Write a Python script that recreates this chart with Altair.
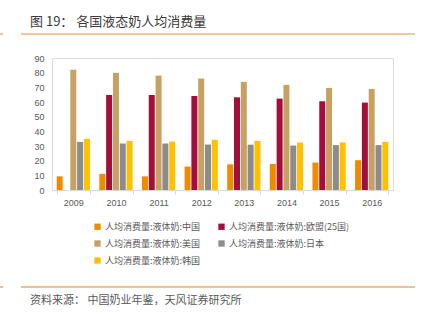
import altair as alt
import pandas as pd

years = ["2009", "2010", "2011", "2012", "2013", "2014", "2015", "2016"]
series = ["人均消费量:液体奶:中国", "人均消费量:液体奶:欧盟(25国)", "人均消费量:液体奶:美国",
          "人均消费量:液体奶:日本", "人均消费量:液体奶:韩国"]
china = [9.3, 11.0, 9.3, 16.0, 17.5, 17.8, 18.7, 20.3]
eu = [None, 64.8, 64.8, 64.1, 63.2, 62.3, 60.5, 59.6]
usa = [82.0, 79.9, 78.0, 76.0, 73.7, 71.7, 69.6, 68.9]
japan = [32.8, 31.7, 31.7, 31.0, 30.9, 30.3, 30.6, 30.6]
korea = [34.9, 33.5, 33.0, 34.2, 33.5, 32.4, 32.4, 32.8]
colors = ["#F08A00", "#A50D3C", "#C8A062", "#8C8C8C", "#FFC000"]

# legend is laid out column by column, so order entries to read row-wise like the reference
legend_order = [0, 2, 4, 1, 3]
legend_domain = [series[i] for i in legend_order]
legend_range = [colors[i] for i in legend_order]

rows = []
for s, vals in zip(series, [china, eu, usa, japan, korea]):
    for y, v in zip(years, vals):
        if v is not None:
            rows.append({"year": y, "series": s, "value": v})
df = pd.DataFrame(rows)

W, H = 341, 132
L, T = 52, 58

bars = alt.Chart(df).mark_bar().encode(
    x=alt.X("year:N", sort=years, title=None,
            scale=alt.Scale(paddingInner=0.22, paddingOuter=0.11),
            axis=alt.Axis(labelAngle=0, labelFontSize=9, labelColor="#595959",
                          domainColor="#D9D9D9", tickColor="#D9D9D9", tickSize=4,
                          tickBand="extent", labelPadding=4, labelFont="Liberation Sans")),
    xOffset=alt.XOffset("series:N", sort=series, scale=alt.Scale(paddingInner=0.12)),
    y=alt.Y("value:Q", title=None,
            scale=alt.Scale(domain=[0, 90]),
            axis=alt.Axis(values=list(range(0, 91, 10)), grid=False, domain=False, ticks=False,
                          labelFontSize=9, labelColor="#595959", labelPadding=8,
                          labelFont="Liberation Sans")),
    color=alt.Color("series:N",
                    scale=alt.Scale(domain=legend_domain, range=legend_range),
                    legend=alt.Legend(title=None, orient="none", legendX=41, legendY=164,
                                      columns=2, symbolType="square", symbolSize=40,
                                      labelFontSize=9, labelColor="#595959",
                                      labelFont="Noto Sans CJK SC", columnPadding=16,
                                      rowPadding=7, labelOffset=3, symbolStrokeWidth=0)),
)

line_df = pd.DataFrame({"k": [0]})
top_rule = alt.Chart(line_df).mark_rule(color="#F9C497", strokeWidth=2).encode(
    x=alt.value(-31), x2=alt.value(363), y=alt.value(-24))
top_tick = alt.Chart(line_df).mark_rule(color="#F9C497", strokeWidth=2).encode(
    x=alt.value(-52), x2=alt.value(-49), y=alt.value(-24))
bot_rule = alt.Chart(line_df).mark_rule(color="#F0A868", strokeWidth=1.5).encode(
    x=alt.value(-31), x2=alt.value(363), y=alt.value(229))
bot_tick = alt.Chart(line_df).mark_rule(color="#F0A868", strokeWidth=1.5).encode(
    x=alt.value(-52), x2=alt.value(-49), y=alt.value(229))

title_df = pd.DataFrame({"t": ["图 19：   各国液态奶人均消费量"]})
title = alt.Chart(title_df).mark_text(align="left", baseline="middle", fontSize=13,
                                      fontWeight="normal", color="#3A3A3A",
                                      font="Noto Sans CJK SC").encode(
    x=alt.value(-22), y=alt.value(-36), text="t:N")

src_df = pd.DataFrame({"t": ["资料来源：  中国奶业年鉴，天风证券研究所"]})
source = alt.Chart(src_df).mark_text(align="left", baseline="middle", fontSize=11,
                                     color="#595959", font="Noto Sans CJK SC").encode(
    x=alt.value(-22), y=alt.value(243), text="t:N")

chart = alt.layer(bars, top_rule, top_tick, bot_rule, bot_tick, title, source).properties(
    width=W, height=H,
    autosize=alt.AutoSizeParams(type="none"),
    padding={"left": L, "top": T, "right": 423 - L - W, "bottom": 328 - T - H},
).configure_view(stroke=None).configure(background="white")

chart.save("out.html", embed_options={"renderer": "svg", "actions": False})
